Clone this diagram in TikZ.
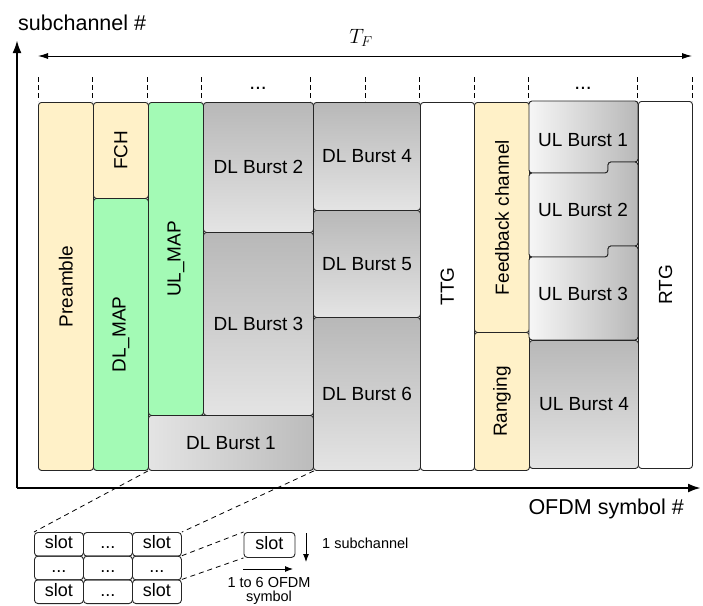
\documentclass[tikz,border=0pt]{standalone}
\usepackage{fontspec}
\setmainfont{Liberation Sans}
\usetikzlibrary{arrows.meta}
\definecolor{yel}{RGB}{255,241,200}
\definecolor{grn}{RGB}{163,250,181}
\definecolor{gdark}{RGB}{184,184,184}
\definecolor{glight}{RGB}{228,228,228}
\definecolor{gwhite}{RGB}{246,246,246}
\begin{document}
\begin{tikzpicture}[x=1pt,y=-1pt,
  box/.style={draw=black!85, line width=0.9pt, rounded corners=3pt, inner sep=0pt,
    font=\fontsize{19}{22}\selectfont},
  vshade/.style={top color=gdark, bottom color=glight},
  hshade/.style={left color=glight, right color=gdark!95},
  ushade/.style={left color=gwhite, right color=gdark},
  rot/.style={rotate=90, inner sep=0pt, font=\fontsize{19}{22}\selectfont},
  lab/.style={inner sep=0pt, font=\fontsize{19}{22}\selectfont},
  axislab/.style={inner sep=0pt, font=\fontsize{21.5}{24}\selectfont},
  axis/.style={line width=2.4pt, -{Latex[length=13pt,width=9pt]}},
  tick/.style={line width=0.8pt, dash pattern=on 5pt off 3pt},
  zoomline/.style={line width=0.8pt, dash pattern=on 5pt off 4pt},
  cell/.style={draw=black!85, line width=0.9pt, rounded corners=3.5pt, inner sep=0pt,
    minimum width=49pt, minimum height=23.7pt, text height=13pt, text depth=4pt,
    font=\fontsize{18}{20}\selectfont},
  small/.style={inner sep=0pt, font=\fontsize{14.5}{15.5}\selectfont},
  ulbox/.style={draw=black!85, line width=0.9pt, rounded corners=3pt, ushade}
]
\useasboundingbox (0,0) rectangle (703,605);

% axes
\coordinate (O) at (17,488);
\coordinate (ytip) at (17,40);
\coordinate (xtip) at (701,488);
\draw[axis] (O) -- (ytip);
\draw[axis] (O) -- (xtip);
\node[axislab, anchor=base west] (ylab) at (18,30) {subchannel \#};
\node[axislab, anchor=base east] (xlab) at (684,514) {OFDM symbol \#};

% T_F arrow
\coordinate (tfl) at (38,56);
\coordinate (tfr) at (692,56);
\draw[line width=0.9pt, {Latex[length=10pt,width=6pt]}-{Latex[length=10pt,width=6pt]}] (tfl) -- (tfr);
\node[inner sep=0pt, font=\fontsize{21}{24}\selectfont] (tf) at (361,38) {$T_F$};

% dashed ticks
\foreach \i in {0,1,2,3,5,6,7,8,9,11,12}{
  \coordinate (ta\i) at ({38+54.5*\i},77);
  \coordinate (tb\i) at ({38+54.5*\i},101);
  \draw[tick] (ta\i) -- (tb\i);
}
\node[lab, anchor=base, font=\fontsize{21}{24}\selectfont] (dots1) at (258,89.5) {...};
\node[lab, anchor=base, font=\fontsize{21}{24}\selectfont] (dots2) at (583,89.5) {...};

% downlink boxes
\node[box, fill=yel, anchor=north west, minimum width=55pt, minimum height=368pt] (pre) at (38,102) {};
\node[rot] (prel) at (pre.center) {Preamble};
\node[box, fill=yel, anchor=north west, minimum width=55pt, minimum height=96pt] (fch) at (93,102) {};
\node[rot] (fchl) at (fch.center) {FCH};
\node[box, fill=grn, anchor=north west, minimum width=55pt, minimum height=272pt] (dlmap) at (93,198) {};
\node[rot] (dlmapl) at (dlmap.center) {DL\_MAP};
\node[box, fill=grn, anchor=north west, minimum width=55pt, minimum height=313pt] (ulmap) at (148,102) {};
\node[rot] (ulmapl) at (ulmap.center) {UL\_MAP};
\node[box, vshade, anchor=north west, minimum width=110pt, minimum height=130pt] (dl2) at (203,102) {DL Burst 2};
\node[box, vshade, anchor=north west, minimum width=110pt, minimum height=183pt] (dl3) at (203,232) {DL Burst 3};
\node[box, hshade, anchor=north west, minimum width=165pt, minimum height=55pt] (dl1) at (148,415) {DL Burst 1};
\node[box, vshade, anchor=north west, minimum width=107pt, minimum height=108pt] (dl4) at (313,102) {DL Burst 4};
\node[box, vshade, anchor=north west, minimum width=107pt, minimum height=107pt] (dl5) at (313,210) {DL Burst 5};
\node[box, vshade, anchor=north west, minimum width=107pt, minimum height=153pt] (dl6) at (313,317) {DL Burst 6};
\node[box, fill=white, anchor=north west, minimum width=54pt, minimum height=368pt] (ttg) at (420,102) {};
\node[rot] (ttgl) at (ttg.center) {TTG};

% uplink boxes
\node[box, fill=yel, anchor=north west, minimum width=55pt, minimum height=230pt] (fb) at (474,102) {};
\node[rot] (fbl) at (fb.center) {Feedback channel};
\node[box, fill=yel, anchor=north west, minimum width=55pt, minimum height=138pt] (rng) at (474,332) {};
\node[rot] (rngl) at (rng.center) {Ranging};
\draw[ulbox] (529,101) -- (638,101) -- (638,162) -- (608,162) -- (608,173) -- (529,173) -- cycle;
\draw[ulbox] (529,173) -- (608,173) -- (608,162) -- (638,162) -- (638,246) -- (608,246) -- (608,257) -- (529,257) -- cycle;
\draw[ulbox] (529,257) -- (608,257) -- (608,246) -- (638,246) -- (638,340) -- (529,340) -- cycle;
\node[lab] (ul1) at (583,140) {UL Burst 1};
\node[lab] (ul2) at (583,210) {UL Burst 2};
\node[lab] (ul3) at (583,294) {UL Burst 3};
\node[box, vshade, anchor=north west, minimum width=109pt, minimum height=128pt] (ul4) at (529,340) {UL Burst 4};
\node[box, fill=white, anchor=north west, minimum width=54pt, minimum height=367pt] (rtg) at (638,101) {};
\node[rot] (rtgl) at (rtg.center) {RTG};

% slot grid
\node[cell, anchor=north west] (g11) at (34,532) {slot};
\node[cell, anchor=north west] (g12) at (83,532) {...};
\node[cell, anchor=north west] (g13) at (132,532) {slot};
\node[cell, anchor=north west] (g21) at (34,555.7) {...};
\node[cell, anchor=north west] (g22) at (83,555.7) {...};
\node[cell, anchor=north west] (g23) at (132,555.7) {...};
\node[cell, anchor=north west] (g31) at (34,579.4) {slot};
\node[cell, anchor=north west] (g32) at (83,579.4) {...};
\node[cell, anchor=north west] (g33) at (132,579.4) {slot};
\node[cell, anchor=north west, minimum width=51pt, minimum height=25pt] (s) at (243.5,532) {slot};

% zoom lines
\draw[zoomline] (dl1.south west) -- (g11.north west);
\draw[zoomline] (dl1.south east) -- (g13.north east);
\draw[zoomline] (g23.north east) -- (s.north west);
\draw[zoomline] (g33.north east) -- (s.south west);

% slot dimensions
\coordinate (da) at (306,533);
\coordinate (db) at (306,562);
\draw[line width=0.9pt, -{Latex[length=8pt,width=6pt]}] (da) -- (db);
\node[small, anchor=west] (subl) at (322,543) {1 subchannel};
\coordinate (ra) at (243,569);
\coordinate (rb) at (293,569);
\draw[line width=0.9pt, -{Latex[length=8pt,width=6pt]}] (ra) -- (rb);
\node[small, anchor=base] (syml1) at (269,587) {1 to 6 OFDM};
\node[small, anchor=base] (syml2) at (269,601) {symbol};
\end{tikzpicture}
\end{document}
